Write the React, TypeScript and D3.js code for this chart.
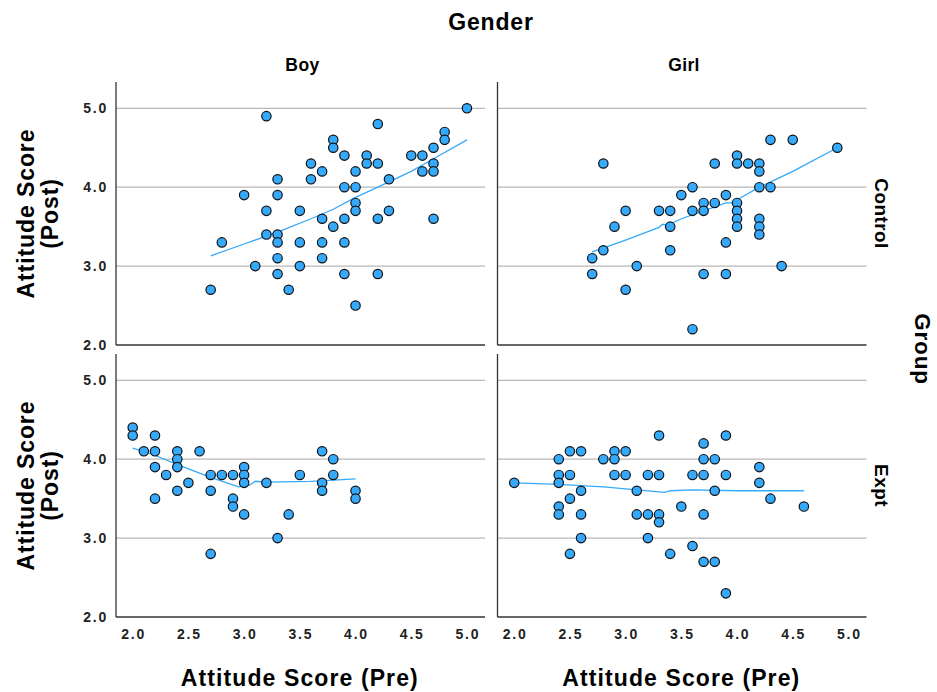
import React from "react";
import * as d3 from "d3";

// Pre / post attitude scores, one array per Gender × Group cell
const boyControl: [number, number][] = [
  [3.2, 4.9], [3.6, 4.3], [3.3, 4.1], [3.6, 4.1], [3.0, 3.9], [3.3, 3.9], [3.2, 3.7], [3.5, 3.7],
  [3.2, 3.4], [3.3, 3.4], [3.3, 3.3], [2.8, 3.3], [3.5, 3.3], [3.3, 3.1], [3.1, 3.0], [3.5, 3.0],
  [3.3, 2.9], [2.7, 2.7], [3.4, 2.7], [5.0, 5.0], [4.2, 4.8], [3.8, 4.6], [3.8, 4.5], [4.8, 4.7],
  [4.8, 4.6], [3.9, 4.4], [4.1, 4.4], [4.1, 4.3], [4.2, 4.3], [3.7, 4.2], [4.0, 4.2], [3.9, 4.0],
  [4.0, 4.0], [4.3, 4.1], [4.5, 4.4], [4.6, 4.4], [4.7, 4.5], [4.7, 4.3], [4.6, 4.2], [4.7, 4.2],
  [4.0, 3.8], [4.0, 3.7], [3.7, 3.6], [3.8, 3.5], [3.9, 3.6], [4.2, 3.6], [4.3, 3.7], [4.7, 3.6],
  [3.7, 3.3], [3.9, 3.3], [3.7, 3.1], [3.9, 2.9], [4.2, 2.9], [4.0, 2.5],
];

const girlControl: [number, number][] = [
  [2.8, 4.3], [3.5, 3.9], [3.0, 3.7], [3.3, 3.7], [3.4, 3.7], [2.9, 3.5], [3.4, 3.5], [2.8, 3.2],
  [2.7, 3.1], [3.4, 3.2], [3.1, 3.0], [2.7, 2.9], [3.0, 2.7], [3.6, 4.0], [3.6, 3.7], [3.7, 3.8],
  [3.7, 3.7], [3.8, 3.8], [3.8, 4.3], [3.9, 3.9], [4.0, 4.4], [4.0, 4.3], [4.1, 4.3], [4.2, 4.3],
  [4.2, 4.2], [4.2, 4.0], [4.3, 4.0], [4.3, 4.6], [4.5, 4.6], [4.9, 4.5], [4.0, 3.8], [4.0, 3.7],
  [4.0, 3.6], [4.0, 3.5], [4.2, 3.6], [4.2, 3.5], [4.2, 3.4], [3.9, 3.3], [4.4, 3.0], [3.7, 2.9],
  [3.9, 2.9], [3.6, 2.2],
];

const boyExpt: [number, number][] = [
  [2.0, 4.4], [2.0, 4.3], [2.2, 4.3], [2.1, 4.1], [2.2, 4.1], [2.4, 4.1], [2.4, 4.0], [2.4, 3.9],
  [2.6, 4.1], [2.2, 3.9], [2.3, 3.8], [2.5, 3.7], [2.4, 3.6], [2.2, 3.5], [2.7, 3.8], [2.8, 3.8],
  [2.9, 3.8], [3.0, 3.9], [3.0, 3.8], [3.0, 3.7], [2.7, 3.6], [2.9, 3.5], [2.9, 3.4], [3.0, 3.3],
  [3.2, 3.7], [3.5, 3.8], [3.4, 3.3], [3.3, 3.0], [2.7, 2.8], [3.7, 4.1], [3.8, 4.0], [3.8, 3.8],
  [3.7, 3.7], [3.7, 3.6], [4.0, 3.6], [4.0, 3.5],
];

const girlExpt: [number, number][] = [
  [2.0, 3.7], [2.4, 4.0], [2.5, 4.1], [2.6, 4.1], [2.4, 3.8], [2.5, 3.8], [2.4, 3.7], [2.5, 3.5],
  [2.6, 3.6], [2.4, 3.4], [2.4, 3.3], [2.6, 3.3], [2.6, 3.0], [2.5, 2.8], [2.8, 4.0], [2.9, 4.1],
  [2.9, 4.0], [3.0, 4.1], [2.9, 3.8], [3.0, 3.8], [3.1, 3.6], [3.1, 3.3], [3.2, 3.8], [3.3, 3.8],
  [3.3, 4.3], [3.2, 3.3], [3.3, 3.3], [3.3, 3.2], [3.2, 3.0], [3.4, 2.8], [3.5, 3.4], [3.6, 3.8],
  [3.7, 3.8], [3.7, 4.0], [3.8, 4.0], [3.7, 4.2], [3.9, 4.3], [3.9, 3.8], [3.8, 3.6], [3.7, 3.3],
  [4.2, 3.9], [4.2, 3.7], [4.3, 3.5], [4.6, 3.4], [3.6, 2.9], [3.7, 2.7], [3.8, 2.7], [3.9, 2.3],
];

// Loess fit curves for each cell
const boyControlFit: [number, number][] = [
  [2.7, 3.13], [3.0, 3.28], [3.3, 3.43], [3.6, 3.6], [3.8, 3.72], [4.0, 3.87], [4.2, 4.0],
  [4.5, 4.2], [4.7, 4.36], [5.0, 4.6],
];
const girlControlFit: [number, number][] = [
  [2.7, 3.18], [3.0, 3.33], [3.3, 3.49], [3.33, 3.53], [3.38, 3.52], [3.5, 3.6], [3.7, 3.7],
  [3.9, 3.8], [3.95, 3.8], [4.2, 4.0], [4.5, 4.2], [4.9, 4.5],
];
const boyExptFit: [number, number][] = [
  [2.0, 4.14], [2.2, 4.05], [2.4, 3.93], [2.7, 3.77], [2.95, 3.65], [3.05, 3.67], [3.1, 3.72],
  [3.2, 3.71], [3.6, 3.72], [4.0, 3.75],
];
const girlExptFit: [number, number][] = [
  [2.0, 3.7], [2.4, 3.68], [2.8, 3.65], [3.1, 3.61], [3.35, 3.58], [3.4, 3.6], [3.6, 3.61],
  [4.0, 3.6], [4.6, 3.6],
];

const genders = ["Boy", "Girl"];
const groups = ["Control", "Expt"];
const xTicks = [2.0, 2.5, 3.0, 3.5, 4.0, 4.5, 5.0];
const yTicks = [2.0, 3.0, 4.0, 5.0];

const cells = [
  { gender: 0, group: 0, points: boyControl, fit: boyControlFit },
  { gender: 1, group: 0, points: girlControl, fit: girlControlFit },
  { gender: 0, group: 1, points: boyExpt, fit: boyExptFit },
  { gender: 1, group: 1, points: girlExpt, fit: girlExptFit },
];

const W = 937;
const H = 692;
const panelLeft = [116, 497.5];
const panelWidth = 369;
const panelTop = [82, 354];
const panelHeight = 263;

const FILL = "#35a9fb";
const FONT = "'Liberation Sans', Arial, Helvetica, sans-serif";

export default function App() {
  const x = d3.scaleLinear().domain([1.85, 5.162]).range([0, panelWidth]);
  const y = d3.scaleLinear().domain([2, 5.333]).range([panelHeight, 0]);
  const line = d3
    .line<[number, number]>()
    .x((d) => x(d[0]))
    .y((d) => y(d[1]));

  return (
    <svg
      width={W}
      height={H}
      viewBox={`0 0 ${W} ${H}`}
      style={{ position: "absolute", left: 0, top: 0, background: "#fff" }}
      fontFamily={FONT}
    >
      <rect width={W} height={H} fill="#fff" />

      {/* Column header */}
      <text x={491} y={30} textAnchor="middle" fontSize={23} fontWeight="bold" letterSpacing={0.8}>
        Gender
      </text>
      {genders.map((g, i) => (
        <text
          key={g}
          x={panelLeft[i] + panelWidth / 2 + 2}
          y={71}
          textAnchor="middle"
          fontSize={17.5}
          fontWeight="bold"
          letterSpacing={0.4}
        >
          {g}
        </text>
      ))}

      {/* Row header */}
      {groups.map((g, j) => (
        <text
          key={g}
          transform={`translate(875,${panelTop[j] + panelHeight / 2}) rotate(90)`}
          textAnchor="middle"
          fontSize={19}
          fontWeight="bold"
          letterSpacing={0.4}
        >
          {g}
        </text>
      ))}
      <text
        transform={`translate(915,349) rotate(90)`}
        textAnchor="middle"
        fontSize={22.5}
        fontWeight="bold"
        letterSpacing={0.8}
      >
        Group
      </text>

      {/* Y axis titles */}
      {groups.map((g, j) => (
        <g key={g} transform={`translate(0,${panelTop[j] + panelHeight / 2}) rotate(-90)`}>
          <text x={0} y={34} textAnchor="middle" fontSize={23} fontWeight="bold" letterSpacing={0.9}>
            Attitude Score
          </text>
          <text x={0} y={58} textAnchor="middle" fontSize={23} fontWeight="bold" letterSpacing={0.9}>
            (Post)
          </text>
        </g>
      ))}

      {/* X axis titles */}
      {genders.map((g, i) => (
        <text
          key={g}
          x={panelLeft[i] + x(3.5)}
          y={686}
          textAnchor="middle"
          fontSize={23}
          fontWeight="bold"
          letterSpacing={1.1}
        >
          Attitude Score (Pre)
        </text>
      ))}

      {/* Y tick labels */}
      {groups.map((g, j) =>
        yTicks.map((t) => (
          <text
            key={`${g}-${t}`}
            x={108}
            y={panelTop[j] + y(t) + 5}
            textAnchor="end"
            fontSize={14}
            fontWeight="bold"
            letterSpacing={1.8}
            fill="#222"
          >
            {t.toFixed(1)}
          </text>
        ))
      )}

      {/* X tick labels */}
      {genders.map((g, i) =>
        xTicks.map((t) => (
          <text
            key={`${g}-${t}`}
            x={panelLeft[i] + x(t) + 1}
            y={639}
            textAnchor="middle"
            fontSize={14}
            fontWeight="bold"
            letterSpacing={1.8}
            fill="#222"
          >
            {t.toFixed(1)}
          </text>
        ))
      )}

      {cells.map((c, k) => {
        const left = panelLeft[c.gender];
        const top = panelTop[c.group];
        return (
          <g key={k} transform={`translate(${left},${top})`}>
            {yTicks.slice(1).map((t) => (
              <line
                key={t}
                x1={0}
                x2={panelWidth}
                y1={y(t)}
                y2={y(t)}
                stroke="#b8b8b8"
                strokeWidth={1.2}
              />
            ))}
            <line x1={0} x2={0} y1={0} y2={panelHeight} stroke="#333" strokeWidth={1.3} />
            <line
              x1={0}
              x2={panelWidth}
              y1={panelHeight}
              y2={panelHeight}
              stroke="#333"
              strokeWidth={1.3}
            />
            <path d={line(c.fit) ?? ""} fill="none" stroke={FILL} strokeWidth={1.3} />
            {c.points.map((p, idx) => (
              <circle
                key={idx}
                cx={x(p[0])}
                cy={y(p[1])}
                r={4.7}
                fill={FILL}
                stroke="#111"
                strokeWidth={1.2}
              />
            ))}
          </g>
        );
      })}
    </svg>
  );
}
